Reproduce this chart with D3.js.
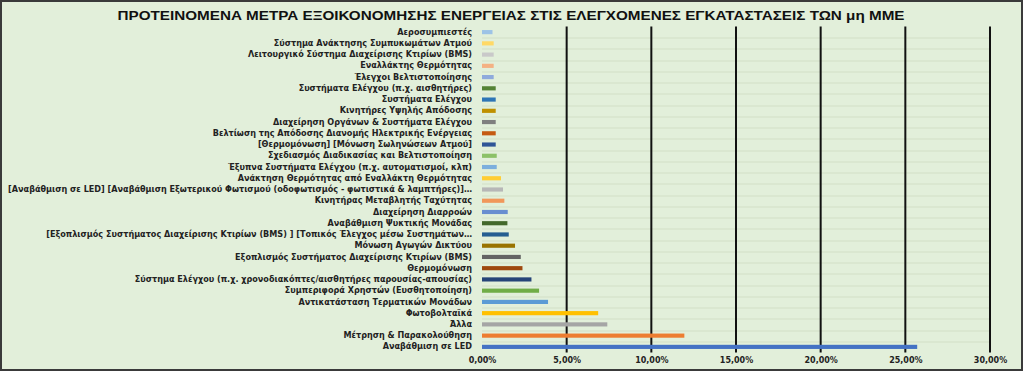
<html>
<head>
  <meta charset="utf-8">
  <script src="https://d3js.org/d3.v7.min.js"></script>
  <style>
    body { margin: 0; background: #fff; }
  </style>
</head>
<body>
  <div id="chart"></div>
  <script>

    // Categories, top to bottom as they appear in the chart
    var categories = [
      "Αεροσυμπιεστές",
      "Σύστημα Ανάκτησης Συμπυκωμάτων Ατμού",
      "Λειτουργικό Σύστημα Διαχείρισης Κτιρίων (BMS)",
      "Εναλλάκτης Θερμότητας",
      "Έλεγχοι Βελτιστοποίησης",
      "Συστήματα Ελέγχου (π.χ. αισθητήρες)",
      "Συστήματα Ελέγχου",
      "Κινητήρες Υψηλής Απόδοσης",
      "Διαχείρηση Οργάνων & Συστήματα Ελέγχου",
      "Βελτίωση της Απόδοσης Διανομής Ηλεκτρικής Ενέργειας",
      "[Θερμομόνωση] [Μόνωση Σωληνώσεων Ατμού]",
      "Σχεδιασμός Διαδικασίας και Βελτιστοποίηση",
      "Έξυπνα Συστήματα Ελέγχου (π.χ. αυτοματισμοί, κλπ)",
      "Ανάκτηση Θερμότητας από Εναλλάκτη Θερμότητας",
      "[Αναβάθμιση σε LED] [Αναβάθμιση Εξωτερικού Φωτισμού (οδοφωτισμός - φωτιστικά & λαμπτήρες)]…",
      "Κινητήρας Μεταβλητής Ταχύτητας",
      "Διαχείρηση Διαρροών",
      "Αναβάθμιση Ψυκτικής Μονάδας",
      "[Εξοπλισμός Συστήματος Διαχείρισης Κτιρίων (BMS)  ] [Τοπικός Έλεγχος μέσω Συστημάτων…",
      "Μόνωση Αγωγών Δικτύου",
      "Εξοπλισμός Συστήματος Διαχείρισης Κτιρίων (BMS)",
      "Θερμομόνωση",
      "Σύστημα Ελέγχου (π.χ. χρονοδιακόπτες/αισθητήρες παρουσίας-απουσίας)",
      "Συμπεριφορά Χρηστών (Ευσθητοποίηση)",
      "Αντικατάσταση Τερματικών Μονάδων",
      "Φωτοβολταϊκά",
      "Άλλα",
      "Μέτρηση & Παρακολούθηση",
      "Αναβάθμιση σε LED"
    ];

    // Share of proposals (%), same order
    var values = [
      0.62, 0.69, 0.69, 0.69, 0.69, 0.81, 0.81, 0.81, 0.81, 0.81,
      0.81, 0.87, 0.87, 1.12, 1.24, 1.32, 1.52, 1.50, 1.58, 1.95,
      2.29, 2.39, 2.92, 3.37, 3.90, 6.86, 7.40, 11.95, 25.70
    ];

    // Bar colours, same order
    var colors = [
      "#9dc3e6", "#ffd966", "#c9c9c9", "#f4b183", "#8faadc", "#548235",
      "#2e75b6", "#bf9000", "#7f7f7f", "#c55a11", "#2f5597", "#8cc168",
      "#7cafdd", "#ffcd33", "#b7b7b7", "#f1975a", "#698ed0", "#43682b",
      "#255e91", "#997300", "#636363", "#9e480e", "#264478", "#70ad47",
      "#5b9bd5", "#ffc000", "#a5a5a5", "#ed7d31", "#4472c4"
    ];

    var xTicks = [0, 5, 10, 15, 20, 25, 30];

    var title = "ΠΡΟΤΕΙΝΟΜΕΝΑ ΜΕΤΡΑ ΕΞΟΙΚΟΝΟΜΗΣΗΣ ΕΝΕΡΓΕΙΑΣ ΣΤΙΣ ΕΛΕΓΧΟΜΕΝΕΣ ΕΓΚΑΤΑΣΤΑΣΕΙΣ ΤΩΝ μη ΜΜΕ";

    var data = categories.map((c, i) => ({name: c, value: values[i], color: colors[i]}));

    var W = 1023, H = 371;
    var margin = {top: 26.5, right: 33, bottom: 18.5, left: 482};
    var width = W - margin.left - margin.right;
    var height = H - margin.top - margin.bottom;

    var svg = d3.select("#chart")
      .append("svg")
        .attr("width", W)
        .attr("height", H);

    // background and dark frame
    svg.append("rect")
        .attr("x", 0).attr("y", 0)
        .attr("width", W).attr("height", H)
        .style("fill", "#3a3a3a");
    svg.append("rect")
        .attr("x", 2).attr("y", 2)
        .attr("width", W - 4).attr("height", H - 4)
        .style("fill", "#e2efda");

    // title
    svg.append("text")
        .attr("x", 511)
        .attr("y", 20)
        .attr("text-anchor", "middle")
        .attr("textLength", 787)
        .attr("lengthAdjust", "spacingAndGlyphs")
        .style("font-family", "'Liberation Sans', Arial, sans-serif")
        .style("font-weight", "bold")
        .style("font-size", "12.5px")
        .style("fill", "#111")
        .text(title);

    var g = svg.append("g")
        .attr("transform", `translate(${margin.left},${margin.top})`);

    var xScale = d3.scaleLinear()
      .domain([0, 30])
      .range([0, width]);

    var yScale = d3.scaleBand()
      .domain(categories)
      .range([0, height])
      .paddingInner(0.63)
      .paddingOuter(0.315);

    // horizontal grid between categories
    g.selectAll(".hgrid")
      .data(categories.slice(1))
      .join("line")
        .attr("class", "hgrid")
        .attr("x1", 0)
        .attr("x2", width)
        .attr("y1", d => Math.round(yScale(d) - yScale.step() * yScale.paddingInner() / 2) + 0.5)
        .attr("y2", d => Math.round(yScale(d) - yScale.step() * yScale.paddingInner() / 2) + 0.5)
        .style("stroke", "#d2dfc6")
        .style("stroke-width", 1);

    // vertical grid lines
    g.selectAll(".vgrid")
      .data(xTicks.slice(1))
      .join("line")
        .attr("class", "vgrid")
        .attr("x1", d => xScale(d))
        .attr("x2", d => xScale(d))
        .attr("y1", 0)
        .attr("y2", height)
        .style("stroke", "#111")
        .style("stroke-width", 2);

    // bars
    g.selectAll(".bar")
      .data(data)
      .join("rect")
        .attr("class", "bar")
        .attr("x", 0)
        .attr("y", d => yScale(d.name))
        .attr("width", d => xScale(d.value))
        .attr("height", yScale.bandwidth())
        .style("fill", d => d.color);

    // x axis
    var fmt = d => d.toFixed(2).replace(".", ",") + "%";
    var xAxis = g.append("g")
        .attr("transform", `translate(0,${height})`)
        .call(d3.axisBottom(xScale).tickValues(xTicks).tickFormat(fmt).tickSize(0).tickPadding(5));
    xAxis.select(".domain").remove();
    xAxis.selectAll("text")
        .style("font-family", "'DejaVu Sans', sans-serif")
        .style("font-weight", "bold")
        .style("font-size", "8px")
        .style("fill", "#222");

    // y axis labels
    var yAxis = g.append("g")
        .call(d3.axisLeft(yScale).tickSize(0).tickPadding(10));
    yAxis.select(".domain").remove();
    yAxis.selectAll("text")
        .style("font-family", "'DejaVu Sans', sans-serif")
        .style("font-weight", "bold")
        .style("font-size", "8.1px")
        .style("fill", "#222");

  </script>
</body>
</html>
